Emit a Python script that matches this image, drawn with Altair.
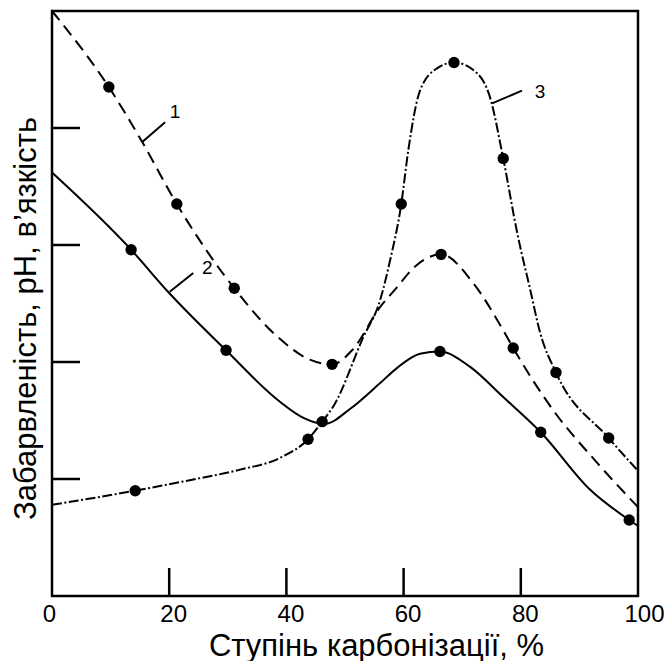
import altair as alt
import pandas as pd

# ---- curve traces (x: %, y: relative units 0..5) ----
curve1_x = [0, 9.7, 15.4, 21.3, 31.1, 38.6, 44.0, 47.8, 51.2, 56.0, 58.9, 61.6, 66.4, 71.8, 77.0, 78.7, 85.5, 93.0, 100]
curve1_y = [5.0, 4.35, 3.88, 3.35, 2.63, 2.21, 2.02, 1.98, 2.10, 2.47, 2.64, 2.80, 2.92, 2.68, 2.27, 2.12, 1.59, 1.14, 0.76]

curve2_x = [0, 13.5, 19.8, 29.7, 38.9, 43.0, 46.5, 50.9, 56.0, 58.9, 62.8, 66.2, 71.3, 77.0, 83.4, 91.8, 98.5, 100]
curve2_y = [3.62, 2.96, 2.60, 2.10, 1.66, 1.52, 1.47, 1.60, 1.82, 1.95, 2.07, 2.09, 1.96, 1.70, 1.40, 0.91, 0.65, 0.60]

curve3_x = [0, 14.2, 23.5, 32.1, 38.9, 43.7, 46.1, 48.0, 53.1, 56.0, 57.7, 59.6, 60.8, 62.8, 65.7, 68.6, 72.5, 74.7, 77.0, 79.4, 81.6, 83.3, 86.0, 95.0, 100]
curve3_y = [0.78, 0.90, 0.99, 1.08, 1.18, 1.34, 1.49, 1.62, 2.21, 2.53, 2.87, 3.35, 3.81, 4.32, 4.51, 4.56, 4.47, 4.27, 3.74, 3.10, 2.62, 2.25, 1.91, 1.35, 1.07]

# ---- measured points ----
pts1_x = [9.7, 21.3, 31.1, 47.8, 66.4, 78.7]
pts1_y = [4.35, 3.35, 2.63, 1.98, 2.92, 2.12]
pts2_x = [13.5, 29.7, 46.1, 66.2, 83.4, 98.5]
pts2_y = [2.96, 2.10, 1.49, 2.09, 1.40, 0.65]
pts3_x = [14.2, 43.7, 59.6, 68.6, 77.0, 86.0, 95.0]
pts3_y = [0.90, 1.34, 3.35, 4.56, 3.74, 1.91, 1.35]

# ---- curve labels with leader lines ----
lab_text = ["1", "2", "3"]
lab_x = [21.0, 26.5, 83.3]
lab_y = [4.14, 2.80, 4.31]
lead_x1 = [15.4, 20.1, 75.1]
lead_y1 = [3.88, 2.60, 4.21]
lead_x2 = [19.3, 24.1, 80.2]
lead_y2 = [4.05, 2.76, 4.32]

# ---- axes ----
x_label_values = [0, 20, 40, 60, 80, 100]
x_tick_values = [20, 40, 60, 80]
y_tick_values = [1, 2, 3, 4]
x_title = "Ступінь карбонізації, %"
y_title = "Забарвленість, рН, в’язкість"

FONT = "Liberation Sans"
W, H = 586, 585
TICK = 28

xs = alt.Scale(domain=[0, 100], nice=False, zero=False)
ys = alt.Scale(domain=[0, 5], nice=False, zero=False)

xaxis = alt.Axis(
    values=x_label_values, ticks=False, domain=False, grid=False,
    labelFont=FONT, labelFontSize=24, labelColor="black", labelFlush=False,
    labelBaseline="alphabetic", labelPadding=25,
    labelOffset=alt.expr("datum.value == 100 ? 6 : (datum.value == 0 ? -3 : 4)"),
    title=x_title, titleFont=FONT, titleFontSize=31, titleFontWeight="normal",
    titleColor="black", titleX=324, titleY=59, titleBaseline="alphabetic", titleAlign="center",
)
yaxis = alt.Axis(
    labels=False, ticks=False, domain=False, grid=False,
    title=y_title, titleFont=FONT, titleFontSize=31, titleFontWeight="normal",
    titleColor="black", titleX=-17, titleY=307, titleBaseline="alphabetic", titleAlign="center",
    titleAngle=270,
)


def enc(chart):
    return chart.encode(
        x=alt.X("x:Q", scale=xs, axis=xaxis),
        y=alt.Y("y:Q", scale=ys, axis=yaxis),
    )


def line_layer(xv, yv, dash, width=2):
    df = pd.DataFrame({"x": xv, "y": yv})
    kw = dict(color="black", strokeWidth=width, interpolate="monotone")
    if dash:
        kw["strokeDash"] = dash
    return enc(alt.Chart(df).mark_line(**kw))


def point_layer(xv, yv):
    df = pd.DataFrame({"x": xv, "y": yv})
    return enc(alt.Chart(df).mark_circle(color="black", size=130, opacity=1))


l1 = line_layer(curve1_x, curve1_y, [12, 7])
l2 = line_layer(curve2_x, curve2_y, None)
l3 = line_layer(curve3_x, curve3_y, [10, 2.5, 2, 2.5])
p1 = point_layer(pts1_x, pts1_y)
p2 = point_layer(pts2_x, pts2_y)
p3 = point_layer(pts3_x, pts3_y)

lead_df = pd.DataFrame({"x": lead_x1, "y": lead_y1, "x2": lead_x2, "y2": lead_y2})
leaders = alt.Chart(lead_df).mark_rule(color="black", strokeWidth=2).encode(
    x=alt.X("x:Q", scale=xs, axis=xaxis), y=alt.Y("y:Q", scale=ys, axis=yaxis),
    x2="x2:Q", y2="y2:Q",
)

lab_df = pd.DataFrame({"x": lab_x, "y": lab_y, "t": lab_text})
labels = enc(alt.Chart(lab_df).mark_text(font=FONT, fontSize=19, color="black",
                                         align="center", baseline="middle")).encode(text="t:N")

xt_df = pd.DataFrame({"x": x_tick_values})
xticks = alt.Chart(xt_df).mark_rule(color="black", strokeWidth=2.5).encode(
    x=alt.X("x:Q", scale=xs, axis=xaxis), y=alt.value(H), y2=alt.value(H - TICK),
)
yt_df = pd.DataFrame({"y": y_tick_values})
yticks = alt.Chart(yt_df).mark_rule(color="black", strokeWidth=2.5).encode(
    y=alt.Y("y:Q", scale=ys, axis=yaxis), x=alt.value(0), x2=alt.value(TICK),
)

chart = alt.layer(xticks, yticks, l1, l2, l3, leaders, p1, p2, p3, labels).properties(
    width=W, height=H,
    autosize=alt.AutoSizeParams(type="none"),
    padding={"left": 44, "top": 3, "right": 26, "bottom": 65},
    background="white",
).configure_view(stroke="black", strokeWidth=2.5)

chart.save("out.html", embed_options={"renderer": "svg", "actions": False})
